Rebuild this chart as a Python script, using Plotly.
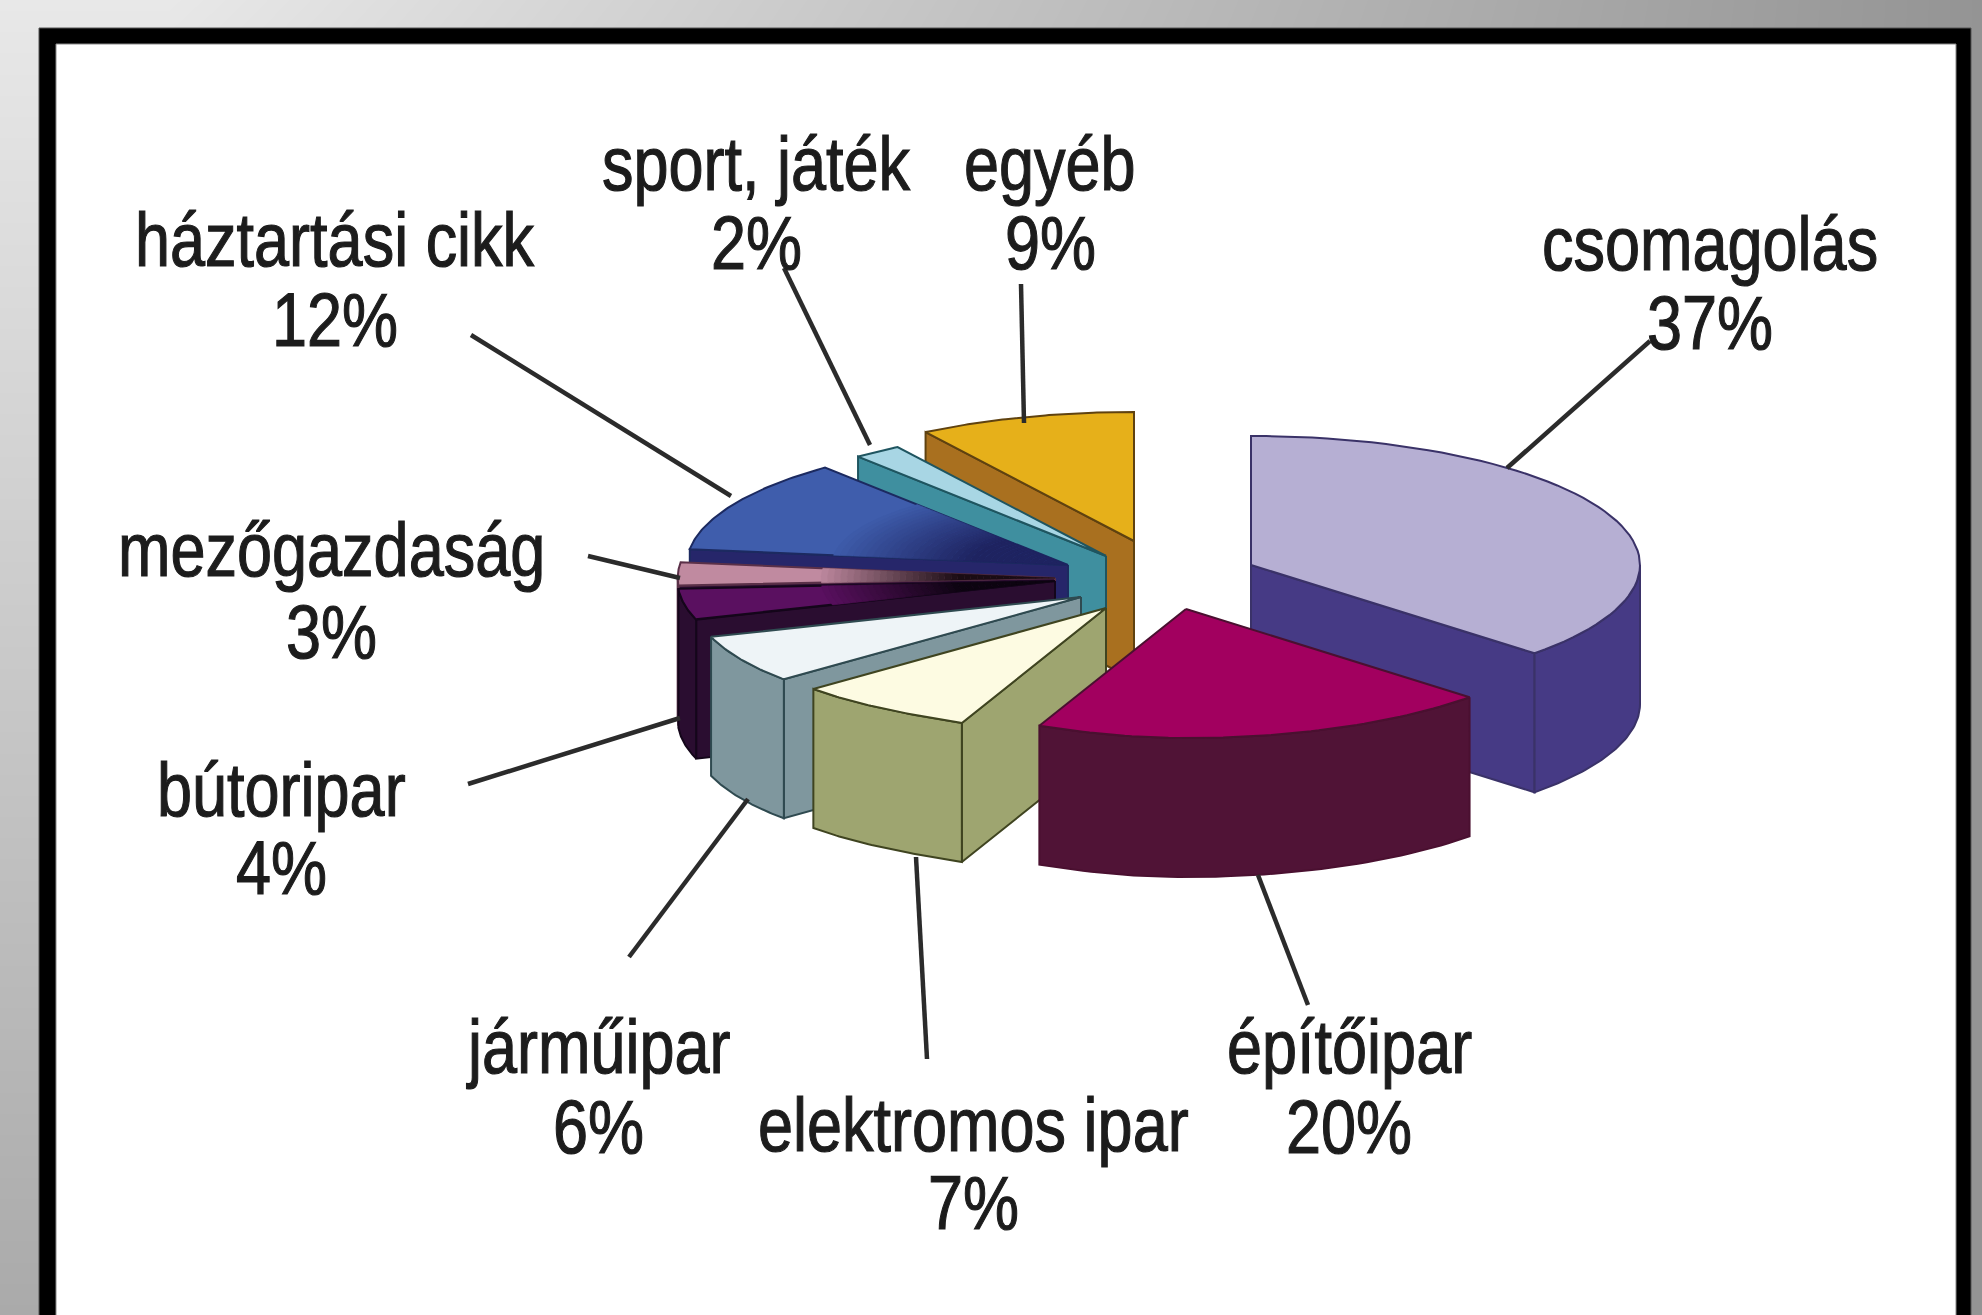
import numpy as np
import plotly.graph_objects as go

# Felhasználási területek megoszlása, az óramutató járásával, 12 órától indulva
categories = ["csomagolás", "építőipar", "elektromos ipar", "járműipar", "bútoripar",
              "mezőgazdaság", "háztartási cikk", "sport, játék", "egyéb"]
values = [37, 20, 7, 6, 4, 3, 12, 2, 9]

W, H = 1982, 1315

# Pie projection: centre, ellipse radii and extrusion depth in page pixels
CX, CY = 1125.0, 562.0
RX, RY = 389.0, 129.0
DEPTH = 139.0

# Per-slice styling, in the same order as the categories
pull_dx = [126, 61, -19, -44, -70, -70, -57, -19, 9]
pull_dy = [3, 47, 46, 35, 19, 16, 3, -6, -21]
slice_scale = [1.0, 1.0, 0.985, 1.0, 0.97, 0.97, 0.98, 1.0, 1.0]
top_colors = ["#b6afd3", "#a2005f", "#fdfbe2", "#eef4f7", "#5a1060",
              "#c08aa0", "#3f5dac", "#a8d6e4", "#e6b01a"]
side_colors = ["#463a85", "#501336", "#9ea570", "#7f979e", "#2a0d30",
               "#2a0d30", "#26266a", "#3f8f9f", "#a9701f"]
edge_colors = ["#3a3268", "#4a1030", "#3f4420", "#2f4a50", "#14061a",
               "#5a3048", "#1c2a60", "#1f5560", "#5f4210"]
# Colour the top face fades to near the pie's middle, where it falls into shadow
core_colors = [None, None, None, None, "#0c0410", "#1a0c14", "#1e2360", None, None]
# Back-to-front painting order
draw_order = [8, 7, 6, 5, 4, 3, 2, 0, 1]

# Leader lines: outer end, inner end; label centre rows
leaders = [((1650, 341), (1507, 468)), ((1308, 1005), (1258, 875)), ((927, 1059), (916, 857)),
           ((629, 957), (748, 799)), ((468, 784), (680, 718)), ((588, 556), (680, 578)),
           ((471, 335), (731, 496)), ((784, 268), (870, 445)), ((1021, 284), (1024, 423))]
label_pos = [(1710, 244, 323), (1349, 1047, 1127), (973, 1125, 1203), (598, 1047, 1127),
             (281, 790, 868), (331, 550, 632), (335, 240, 320), (756, 164, 243), (1050, 164, 243)]

FONT = dict(family="Liberation Sans, Arial, sans-serif", size=63, color="#1c1c1c")

fig = go.Figure()

# Grey backdrop: light towards the top-left, darker towards the right
gx = np.linspace(0, W, 48)
gy = np.linspace(0, H, 32)
u = np.clip((gx - 170) / (W - 170), 0, 1)
v = gy / H
left = 232 - 62 * v
z = np.outer(left, 1 - u) + 148 * u
fig.add_trace(go.Heatmap(x=gx, y=gy, z=z, zmin=0, zmax=255, zsmooth="best", showscale=False,
                         colorscale=[[0, "#000000"], [1, "#ffffff"]], hoverinfo="skip"))


def poly(xs, ys, fill, edge, width=2.0):
    fig.add_trace(go.Scatter(x=xs, y=ys, mode="lines", fill="toself", fillcolor=fill,
                             line=dict(color=edge, width=width), hoverinfo="skip", showlegend=False))


def mix(c1, c2, t):
    a = [int(c1[k:k + 2], 16) for k in (1, 3, 5)]
    b = [int(c2[k:k + 2], 16) for k in (1, 3, 5)]
    return "#" + "".join(f"{round(p + (q - p) * t):02x}" for p, q in zip(a, b))


# Frame: black band with a white panel running off the bottom edge
poly([39, 1971, 1971, 39, 39], [28, 28, H + 5, H + 5, 28], "#000000", "#555555", 1)
poly([56, 1956, 1956, 56, 56], [44, 44, H + 5, H + 5, 44], "#ffffff", "#888888", 1)

shares = np.array(values, dtype=float) / sum(values) * 2 * np.pi
ends = np.cumsum(shares)
starts = ends - shares


def rim(i, a):
    """Page position of angle(s) a on the top rim of slice i."""
    s = slice_scale[i]
    # Front-left of the rim is pinched slightly, as the foreshortened view has it
    pinch = 19 * np.exp(-((np.degrees(a) - 205) / 18) ** 2)
    return (CX + pull_dx[i] + RX * s * np.sin(a) + pinch, CY + pull_dy[i] - RY * s * np.cos(a))


for i in draw_order:
    a0, a1 = starts[i], ends[i]
    ax, ay = CX + pull_dx[i], CY + pull_dy[i]
    side, edge = side_colors[i], edge_colors[i]
    # Cut faces turned towards the viewer
    if np.sin(a0) < -1e-6:
        x0, y0 = rim(i, a0)
        poly([ax, x0, x0, ax, ax], [ay, y0, y0 + DEPTH, ay + DEPTH, ay], side, edge)
    if np.sin(a1) > 1e-6:
        x1, y1 = rim(i, a1)
        poly([ax, x1, x1, ax, ax], [ay, y1, y1 + DEPTH, ay + DEPTH, ay], side, edge)
    # Outer wall, only where the rim faces the viewer
    lo, hi = max(a0, np.pi / 2), min(a1, 3 * np.pi / 2)
    if hi > lo:
        t = np.linspace(lo, hi, 50)
        rx, ry = rim(i, t)
        poly(np.r_[rx, rx[::-1], rx[0]], np.r_[ry, ry[::-1] + DEPTH, ry[0]], side, edge)
    # Top face
    t = np.linspace(a0, a1, 60)
    rx, ry = rim(i, t)
    poly(np.r_[ax, rx, ax], np.r_[ay, ry, ay], top_colors[i], edge)
    # Shadow bands fading towards the middle of the pie
    if core_colors[i]:
        steps = 36
        for k in range(steps):
            f_out = 0.62 * (1 - k / steps)
            f_in = 0.62 * (1 - (k + 1) / steps)
            col = mix(top_colors[i], core_colors[i], min(1.0, (k + 1) / (steps * 0.6)))
            xo, yo = ax + (rx - ax) * f_out, ay + (ry - ay) * f_out
            xi, yi = ax + (rx - ax) * f_in, ay + (ry - ay) * f_in
            poly(np.r_[xo, xi[::-1], xo[0]], np.r_[yo, yi[::-1], yo[0]], col, col, 0.5)

# Leader lines and two-row labels
for (outer, inner) in leaders:
    fig.add_trace(go.Scatter(x=[outer[0], inner[0]], y=[outer[1], inner[1]], mode="lines",
                             line=dict(color="#2b2b2b", width=4.5), hoverinfo="skip", showlegend=False))

annotations = []
for name, val, (lx, y1, y2) in zip(categories, values, label_pos):
    annotations.append(dict(x=lx, y=y1, text=name, showarrow=False, font=FONT,
                            xanchor="center", yanchor="middle"))
    annotations.append(dict(x=lx, y=y2, text=f"{val}%", showarrow=False, font=FONT,
                            xanchor="center", yanchor="middle"))

fig.update_layout(
    width=W, height=H, margin=dict(l=0, r=0, t=0, b=0), autosize=False,
    paper_bgcolor="#ffffff", plot_bgcolor="#ffffff", showlegend=False,
    annotations=annotations,
    xaxis=dict(range=[0, W], visible=False, fixedrange=True, showgrid=False, zeroline=False),
    yaxis=dict(range=[H, 0], visible=False, fixedrange=True, showgrid=False, zeroline=False),
)

# The lettering is tall and tight: stretch each label vertically about its own middle
stretch_labels = """
document.querySelectorAll('.annotation-text').forEach(function (el) {
  var box = el.getBBox();
  var cy = box.y + box.height / 2;
  el.setAttribute('transform', 'translate(0 ' + cy + ') scale(1 1.2) translate(0 ' + (-cy) + ')');
  el.style.paintOrder = 'stroke';
  el.style.stroke = '#1c1c1c';
  el.style.strokeWidth = '1px';
});
"""

fig.write_html("out.html", config=dict(displayModeBar=False), post_script=stretch_labels)
